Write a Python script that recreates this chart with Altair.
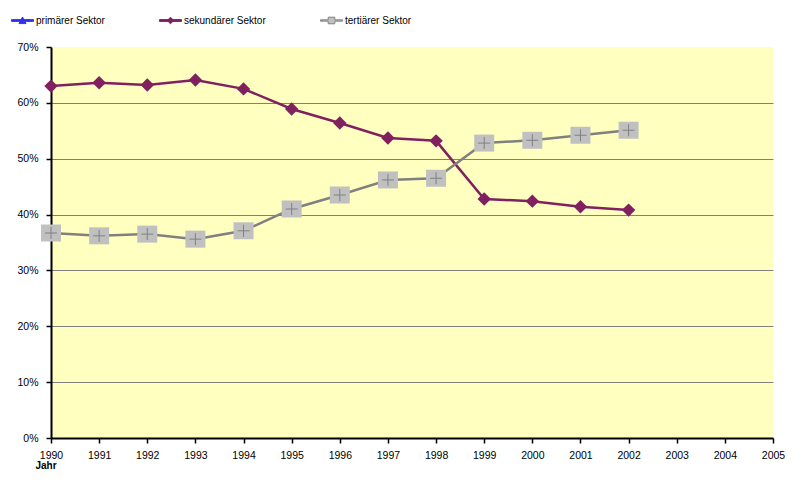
import altair as alt
import pandas as pd

years = list(range(1990, 2003))
sekundaer = [63.0, 63.6, 63.2, 64.1, 62.5, 58.9, 56.4, 53.7, 53.2, 42.8, 42.4, 41.4, 40.8]
tertiaer = [36.7, 36.2, 36.5, 35.6, 37.1, 41.0, 43.5, 46.2, 46.5, 52.8, 53.3, 54.2, 55.1]
series = ["primärer Sektor", "sekundärer Sektor", "tertiärer Sektor"]
colors = ["#3333EE", "#802060", "#808080"]
x_ticks = list(range(1990, 2006))
y_ticks = [0, 0.1, 0.2, 0.3, 0.4, 0.5, 0.6, 0.7]

rows = []
for y, v in zip(years, sekundaer):
    rows.append({"Jahr": y, "Anteil": v / 100, "Sektor": series[1]})
for y, v in zip(years, tertiaer):
    rows.append({"Jahr": y, "Anteil": v / 100, "Sektor": series[2]})
df = pd.DataFrame(rows)

FONT = "Liberation Sans"
FS = 10.5

x_enc = alt.X(
    "Jahr:Q",
    scale=alt.Scale(domain=[1990, 2005], nice=False, zero=False),
    axis=alt.Axis(
        values=x_ticks, format="d", grid=False, title="Jahr",
        titleFontWeight="bold", titleFontSize=10, titleAnchor="start",
        titleAlign="left", titleBaseline="middle", titleX=-16, titleY=27,
        labelPadding=7, labelFlush=False, tickSize=5,
    ),
)
y_enc = alt.Y(
    "Anteil:Q",
    scale=alt.Scale(domain=[0, 0.7], nice=False),
    axis=alt.Axis(
        values=y_ticks, format=".0%", title=None, tickSize=5, labelPadding=8,
        gridOpacity={"expr": "datum.value > 0.69 || datum.value < 0.01 ? 0 : 1"},
    ),
)

shape_expr = (
    "datum.value === 'primärer Sektor' ? 'M-1,-0.08L1,-0.08L1,0.08L-1,0.08Z M-0.32,0.28L0,-0.32L0.32,0.28Z' : "
    "datum.value === 'sekundärer Sektor' ? 'M-1,-0.08L1,-0.08L1,0.08L-1,0.08Z M-0.3,0L0,-0.3L0.3,0L0,0.3Z' : "
    "'M-1,-0.06L-0.3,-0.06L-0.3,-0.3L0.3,-0.3L0.3,-0.06L1,-0.06L1,0.06L0.3,0.06L0.3,0.3L-0.3,0.3L-0.3,0.06L-1,0.06Z'"
)
fill_expr = (
    "datum.value === 'primärer Sektor' ? '#3333EE' : "
    "datum.value === 'sekundärer Sektor' ? '#802060' : '#C0C0C0'"
)
stroke_expr = "datum.value === 'tertiärer Sektor' ? '#808080' : 'transparent'"

legend = alt.Legend(
    title=None, orient="none", direction="horizontal", legendX=-40, legendY=-38,
    symbolSize=484, labelFontSize=10, labelOffset=2, columnPadding=52,
    gridAlign="none",
    symbolType={"expr": shape_expr},
    symbolFillColor={"expr": fill_expr},
    symbolStrokeColor={"expr": stroke_expr},
    symbolStrokeWidth=1, symbolOpacity=1,
)

lines = alt.Chart(df).mark_line(strokeWidth=2.5).encode(
    x=x_enc, y=y_enc,
    color=alt.Color("Sektor:N", scale=alt.Scale(domain=series, range=colors), legend=legend),
)

diamonds = alt.Chart(df).transform_filter(
    alt.datum.Sektor == series[1]
).mark_point(shape="diamond", filled=True, size=180, color="#802060", opacity=1).encode(
    x="Jahr:Q", y="Anteil:Q"
)

squares = alt.Chart(df).transform_filter(
    alt.datum.Sektor == series[2]
).mark_point(
    shape="M-1,-0.85L1,-0.85L1,0.85L-1,0.85Z", filled=True, size=400,
    color="#C0C0C0", opacity=1, strokeWidth=0,
).encode(x="Jahr:Q", y="Anteil:Q")

crosses = alt.Chart(df).transform_filter(
    alt.datum.Sektor == series[2]
).mark_point(
    shape="M-0.6,0L0.6,0M0,-0.6L0,0.6", filled=False, size=400,
    color="#808080", opacity=1, strokeWidth=1,
).encode(x="Jahr:Q", y="Anteil:Q")

chart = alt.layer(lines, diamonds, squares, crosses).properties(
    width=722, height=391,
    autosize=alt.AutoSizeParams(type="none"),
    padding={"left": 43, "top": 39, "right": 12, "bottom": 34},
).configure(font=FONT).configure_view(
    fill="#FFFFC0", stroke=None
).configure_axis(
    domainColor="black", domainWidth=2, tickColor="black", tickWidth=1.5,
    gridColor="#808080", gridWidth=1.2, labelFont=FONT, labelFontSize=FS,
    labelColor="black", titleFont=FONT, titleColor="black",
).configure_legend(labelFont=FONT, labelColor="black")

chart.save("out.html", embed_options={"renderer": "svg", "actions": False})
